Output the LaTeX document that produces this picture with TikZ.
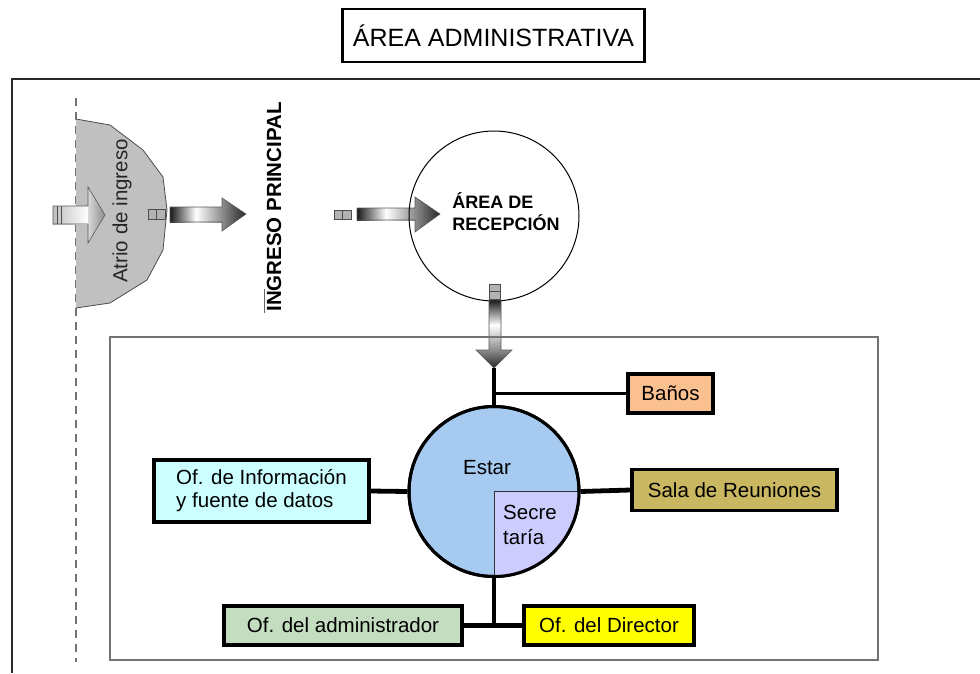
\documentclass[tikz,border=0pt]{standalone}
\usepackage{fontspec}
\setmainfont{Liberation Sans}
\usetikzlibrary{calc}
\definecolor{estarblue}{HTML}{A6CAF0}
\definecolor{secfill}{HTML}{CCCCFF}
\definecolor{banosfill}{HTML}{FAC090}
\definecolor{salafill}{HTML}{C9B762}
\definecolor{infofill}{HTML}{CCFFFF}
\definecolor{adminfill}{HTML}{C4DDC0}
\definecolor{dirfill}{HTML}{FFFF00}
\definecolor{atriofill}{HTML}{C0C0C0}
\definecolor{framegray}{HTML}{2A2A2A}
\begin{document}
\begin{tikzpicture}[x=1pt,y=-1pt,
  room/.style={draw=black, line width=3.4pt, inner sep=0pt, font=\fontsize{20.5}{23}\selectfont},
  link/.style={line width=4.8pt},
  thinlink/.style={line width=3.4pt},
  blockarrow/.style={draw=black!65, line width=0.6pt},
  tailsq/.style={draw=black!70, fill=black!30, line width=0.6pt}]
\useasboundingbox (0,0) rectangle (980,673);

% title
\node[draw=black, line width=2.4pt, minimum width=302, minimum height=53, inner sep=0pt,
  font=\fontsize{25}{29}\selectfont] (title) at (493.5,35.5) {ÁREA ADMINISTRATIVA};

% outer frame
\draw[framegray, line width=2.8pt] (980,79) -- (12,79) -- (12,673);
% dashed boundary
\draw[black!55, line width=1.5pt, dash pattern=on 8pt off 6pt] (76,98) -- (76,662);

% atrio
\draw[black!70, fill=atriofill, line width=0.8pt]
  (76,119) -- (110,125) -- (143,150) -- (163,177) -- (167,210) -- (163,250)
  -- (147,280) -- (110,303) -- (76,308);
\node[rotate=90, text=black!85, font=\fontsize{20.5}{23}\selectfont] (atrio) at (122,211) {Atrio de ingreso};

% entry arrow
\shade[left color=black!25, right color=white] (53,206) rectangle (88,224);
\shade[left color=black!15, right color=black!45] (88,187) -- (105,215) -- (88,243) -- cycle;
\draw[blockarrow]
  (53,206) -- (88,206) -- (88,187) -- (105,215) -- (88,243) -- (88,224) -- (53,224) -- cycle;
\draw[black!70, line width=0.8pt] (57,206) -- (57,224) (61,206) -- (61,224);

% arrow atrio -> ingreso
\draw[tailsq] (148,209) rectangle (156.5,219);
\draw[tailsq] (156.5,209) rectangle (165,219);
\shade[left color=black!90, right color=black!45, middle color=white] (170,207) rectangle (222,222);
\shade[left color=black!45, right color=black!85] (222,198) -- (246,214) -- (222,231) -- cycle;
\draw[blockarrow]
  (170,207) -- (222,207) -- (222,198) -- (246,214) -- (222,231) -- (222,222) -- (170,222) -- cycle;

% ingreso principal
\node[rotate=90, font=\bfseries\fontsize{20.5}{24}\selectfont] (ingreso) at (274,207) {INGRESO PRINCIPAL};
\draw[black!60, line width=0.8pt] (264,289) -- (264,313);

% arrow -> recepcion
\draw[tailsq] (334,210) rectangle (342.5,219);
\draw[tailsq] (342.5,210) rectangle (351,219);
\shade[left color=black!90, right color=black!45, middle color=white] (357,208) rectangle (415,220);
\shade[left color=black!45, right color=black!85] (415,197) -- (440,214) -- (415,232) -- cycle;
\draw[blockarrow]
  (357,208) -- (415,208) -- (415,197) -- (440,214) -- (415,232) -- (415,220) -- (357,220) -- cycle;

% reception circle
\node[circle, draw=black, line width=1pt, minimum size=170, inner sep=0pt] (rec) at (494,216) {};
\node[align=left, inner sep=0pt, font=\bfseries\fontsize{18}{22}\selectfont] (rectext) at (506,212) {ÁREA DE\\RECEPCIÓN};

% down arrow
\draw[tailsq] (489,284) rectangle (500,291.5);
\draw[tailsq] (489,291.5) rectangle (500,299);
\shade[top color=black!90, bottom color=black!45, middle color=white] (489,300) rectangle (501,350);
\shade[top color=black!45, bottom color=black!85] (476,350) -- (512,350) -- (494,368) -- cycle;
\draw[blockarrow]
  (489,300) -- (501,300) -- (501,350) -- (512,350) -- (494,368) -- (476,350) -- (489,350) -- cycle;
\coordinate (tip) at (494,368);

% inner box
\draw[black!55, line width=2pt] (110,337) rectangle (878,660);

% estar circle
\node[circle, draw=black, fill=estarblue, line width=3pt, minimum size=170, inner sep=0pt] (estar) at (494,491.5) {};
\begin{scope}
  \clip (494,491.5) rectangle (600,600);
  \fill[secfill] (estar.center) circle[radius=85pt];
\end{scope}
\draw[black!80, line width=1pt] (estar.south) -- (estar.center) -- (estar.east);
\draw[black, line width=3pt] (estar.center) circle[radius=85pt];
\node[font=\fontsize{20.5}{23}\selectfont] (estartext) at (487,468) {Estar};
\node[align=left, anchor=west, inner sep=0pt, font=\fontsize{20.5}{25}\selectfont] (sectext) at (503,524.5) {Secre\\taría};

% rooms
\node[room, fill=banosfill, minimum width=85, minimum height=39] (banos) at (670.5,393.5) {Baños};
\node[room, fill=salafill, minimum width=205, minimum height=41] (sala) at (734.5,490) {Sala de Reuniones};
\node[room, fill=infofill, minimum width=215, minimum height=62, align=left] (info) at (261.5,491) {Of. de Información\\y fuente de datos};
\node[room, fill=adminfill, minimum width=238, minimum height=39] (admin) at (343,625.5) {Of. del administrador};
\node[room, fill=dirfill, minimum width=170, minimum height=39] (director) at (609,625.5) {Of. del Director};

% connectors
\draw[link] (tip) -- (estar.north);
\draw[thinlink] (estar.north |- banos.west) -- (banos.west);
\draw[link] (info.east) -- (estar.west);
\draw[link] (estar.east) -- (sala.west);
\draw[link] (estar.south) -- (estar.south |- admin.east);
\draw[link] (admin.east) -- (director.west);
\end{tikzpicture}
\end{document}
